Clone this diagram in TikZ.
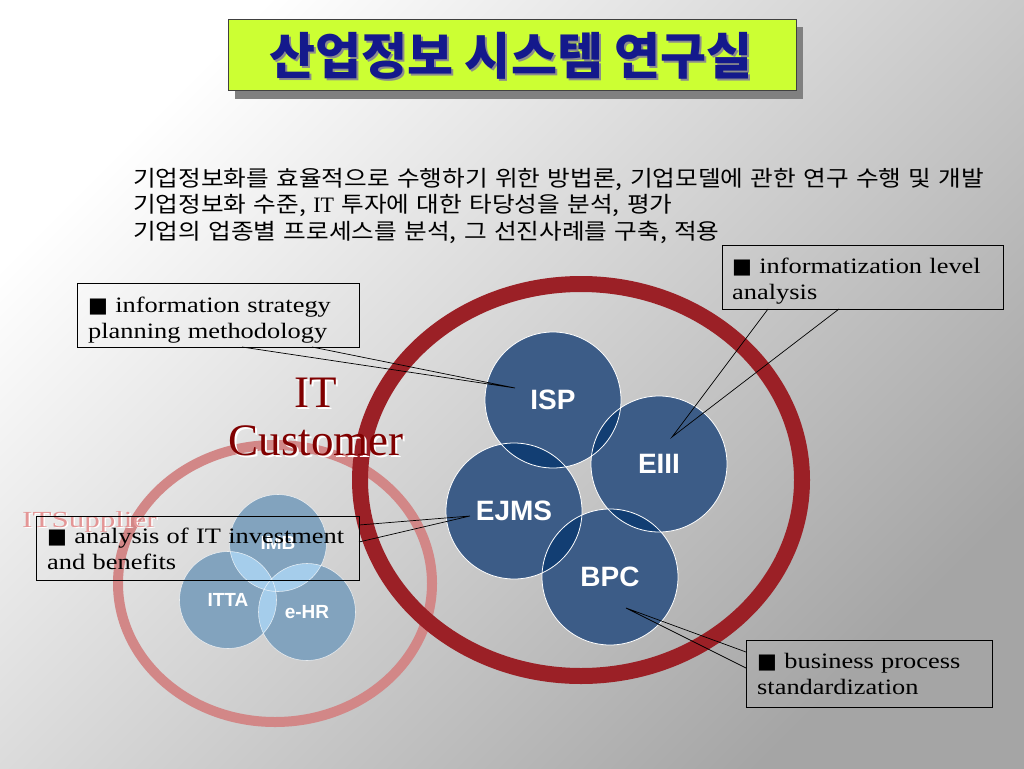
\documentclass[tikz,border=0pt]{standalone}
\usepackage{fontspec}
\setmainfont{Liberation Serif}
\newfontfamily\hangul[WordSpace=2,FakeStretch=1.12]{Noto Sans CJK KR}
\newfontfamily\hangultitle{Noto Sans CJK KR}
\newfontfamily\notefont[FakeStretch=1.2]{Liberation Serif}
\newfontfamily\labelfont{Liberation Sans}
\newfontfamily\squarefont{DejaVu Sans}
\newcommand{\notemark}{{\squarefont\fontsize{21}{21}\selectfont ■}}
\usetikzlibrary{calc}

\definecolor{ringred}{RGB}{155,32,38}
\definecolor{ringpink}{RGB}{210,135,135}
\definecolor{bigblue}{RGB}{60,92,135}
\definecolor{bigover}{RGB}{18,62,115}
\definecolor{smallblue}{RGB}{130,163,190}
\definecolor{smallover}{RGB}{165,205,235}
\definecolor{titlebg}{RGB}{204,255,51}
\definecolor{titleink}{RGB}{20,25,140}
\definecolor{itred}{RGB}{128,0,0}
\definecolor{supplierpink}{RGB}{228,150,150}
\definecolor{bggray}{RGB}{165,165,165}

\begin{document}
\begin{tikzpicture}[x=1pt,y=-1pt,
  bigdisc/.style={circle,draw=white,line width=0.8pt,minimum size=136pt,inner sep=0pt,
    text=white,font=\labelfont\bfseries\fontsize{28}{28}\selectfont},
  smalldisc/.style={circle,draw=white,draw opacity=0.7,line width=0.6pt,minimum size=97pt,inner sep=0pt,
    text=white,font=\labelfont\bfseries\fontsize{19}{19}\selectfont},
  notebox/.style={draw=black,line width=0.8pt,inner sep=0pt,anchor=north west},
  notetext/.style={anchor=base west,align=left,text width=360pt,inner sep=0pt,
    font=\notefont\fontsize{22}{26.5}\selectfont},
  pointer/.style={line width=0.7pt,black}]

\useasboundingbox (0,0) rectangle (1024,768);

% background
\shade[top color=white,bottom color=bggray,shading angle=45] (0,0) rectangle (1024,768);

% rings
\draw[ringpink,line width=10pt] (275,583.5) ellipse[x radius=157pt,y radius=138.5pt];
\draw[ringred,line width=16pt] (581,480) ellipse[x radius=221pt,y radius=196pt];

% small discs
\coordinate (cIMB) at (278,543);
\coordinate (cITTA) at (228,600);
\coordinate (ceHR) at (307,612);
\foreach \n in {IMB,ITTA,eHR}
  \fill[smallblue] (c\n) circle[radius=48.5pt];
\foreach \a/\b in {IMB/ITTA,IMB/eHR,ITTA/eHR} {
  \begin{scope}
    \clip (c\a) circle[radius=48.5pt];
    \fill[smallover] (c\b) circle[radius=48.5pt];
  \end{scope}
}
\node[smalldisc] (IMB) at (cIMB) {IMB};
\node[smalldisc] (ITTA) at (cITTA) {ITTA};
\node[smalldisc] (eHR) at (ceHR) {e-HR};

% big discs
\coordinate (cISP) at (553,400);
\coordinate (cEIII) at (659,464);
\coordinate (cEJMS) at (514,511);
\coordinate (cBPC) at (610,577);
\foreach \n in {ISP,EIII,EJMS,BPC}
  \fill[bigblue] (c\n) circle[radius=68pt];
\foreach \a/\b in {ISP/EIII,ISP/EJMS,EJMS/BPC,EIII/BPC} {
  \begin{scope}
    \clip (c\a) circle[radius=68pt];
    \fill[bigover] (c\b) circle[radius=68pt];
  \end{scope}
}
\node[bigdisc] (ISP) at (cISP) {ISP};
\node[bigdisc] (EIII) at (cEIII) {EIII};
\node[bigdisc] (EJMS) at (cEJMS) {EJMS};
\node[bigdisc] (BPC) at (cBPC) {BPC};

% ring labels
\node[anchor=base,text width=220pt,align=center,inner sep=0pt,text=white,
  font=\rmfamily\fontsize{45}{48}\selectfont] at (318,409) {IT\\Customer};
\node[anchor=base,text width=220pt,align=center,inner sep=0pt,text=itred,
  font=\rmfamily\fontsize{45}{48}\selectfont] (customer) at (316,407) {IT\\Customer};
\node[anchor=base west,inner sep=0pt,text=white,
  font=\rmfamily\fontsize{23}{23}\selectfont] at (23.5,528.5) {\scalebox{1.35}[1]{ITSupplier}};
\node[anchor=base west,inner sep=0pt,text=supplierpink,
  font=\rmfamily\fontsize{23}{23}\selectfont] (supplier) at (22,527) {\scalebox{1.35}[1]{ITSupplier}};

% title
\fill[black!50] (235,27.5) rectangle (803,99);
\node[draw=black!75,fill=titlebg,minimum width=568pt,minimum height=71pt,inner sep=0pt] (title) at (512,55) {};
\node[text=black!45,font=\hangultitle\bfseries\fontsize{50}{50}\selectfont] at (513,58) {산업정보 시스템 연구실};
\node[text=titleink,font=\hangultitle\bfseries\fontsize{50}{50}\selectfont] (titletext) at (511,56) {산업정보 시스템 연구실};

% aims
\node[anchor=base west,align=left,text width=880pt,inner sep=0pt,
  font=\hangul\fontsize{22}{26.5}\selectfont] (aims) at (133,186)
  {기업정보화를 효율적으로 수행하기 위한 방법론, 기업모델에 관한 연구 수행 및 개발\\
   기업정보화 수준, {\rmfamily IT} 투자에 대한 타당성을 분석, 평가\\
   기업의 업종별 프로세스를 분석, 그 선진사례를 구축, 적용};

% callouts
\node[notebox,minimum width=282pt,minimum height=64pt] (ispbox) at (77,283) {};
\node[notetext] (isptext) at (88,312) {\notemark{} information strategy\\planning methodology};
\coordinate (ispa) at (242,347);
\coordinate (ispb) at (312,347);
\coordinate (isptip) at (515,388);
\draw[pointer] (ispa) -- (isptip) -- (ispb);

\node[notebox,minimum width=281pt,minimum height=64pt] (eiiibox) at (722,245) {};
\node[notetext] (eiiitext) at (732,273) {\notemark{} informatization level\\analysis};
\coordinate (eiiia) at (768,309);
\coordinate (eiiib) at (839,309);
\coordinate (eiiitip) at (672,437);
\draw[pointer] (eiiia) -- (eiiitip) -- (eiiib);

\node[notebox,minimum width=246pt,minimum height=67pt] (bpcbox) at (746,640) {};
\node[notetext] (bpctext) at (757,668) {\notemark{} business process\\standardization};
\coordinate (bpca) at (746,652);
\coordinate (bpcb) at (746,668);
\coordinate (bpctip) at (626,608);
\draw[pointer] (bpca) -- (bpctip) -- (bpcb);

\node[notebox,minimum width=323pt,minimum height=64pt] (ejmsbox) at (36,516) {};
\node[notetext] (ejmstext) at (47,543) {\notemark{} analysis of IT investment\\and benefits};
\coordinate (ejmsa) at (359,525);
\coordinate (ejmsb) at (359,542);
\coordinate (ejmstip) at (470,516);
\draw[pointer] (ejmsa) -- (ejmstip) -- (ejmsb);

\end{tikzpicture}
\end{document}
